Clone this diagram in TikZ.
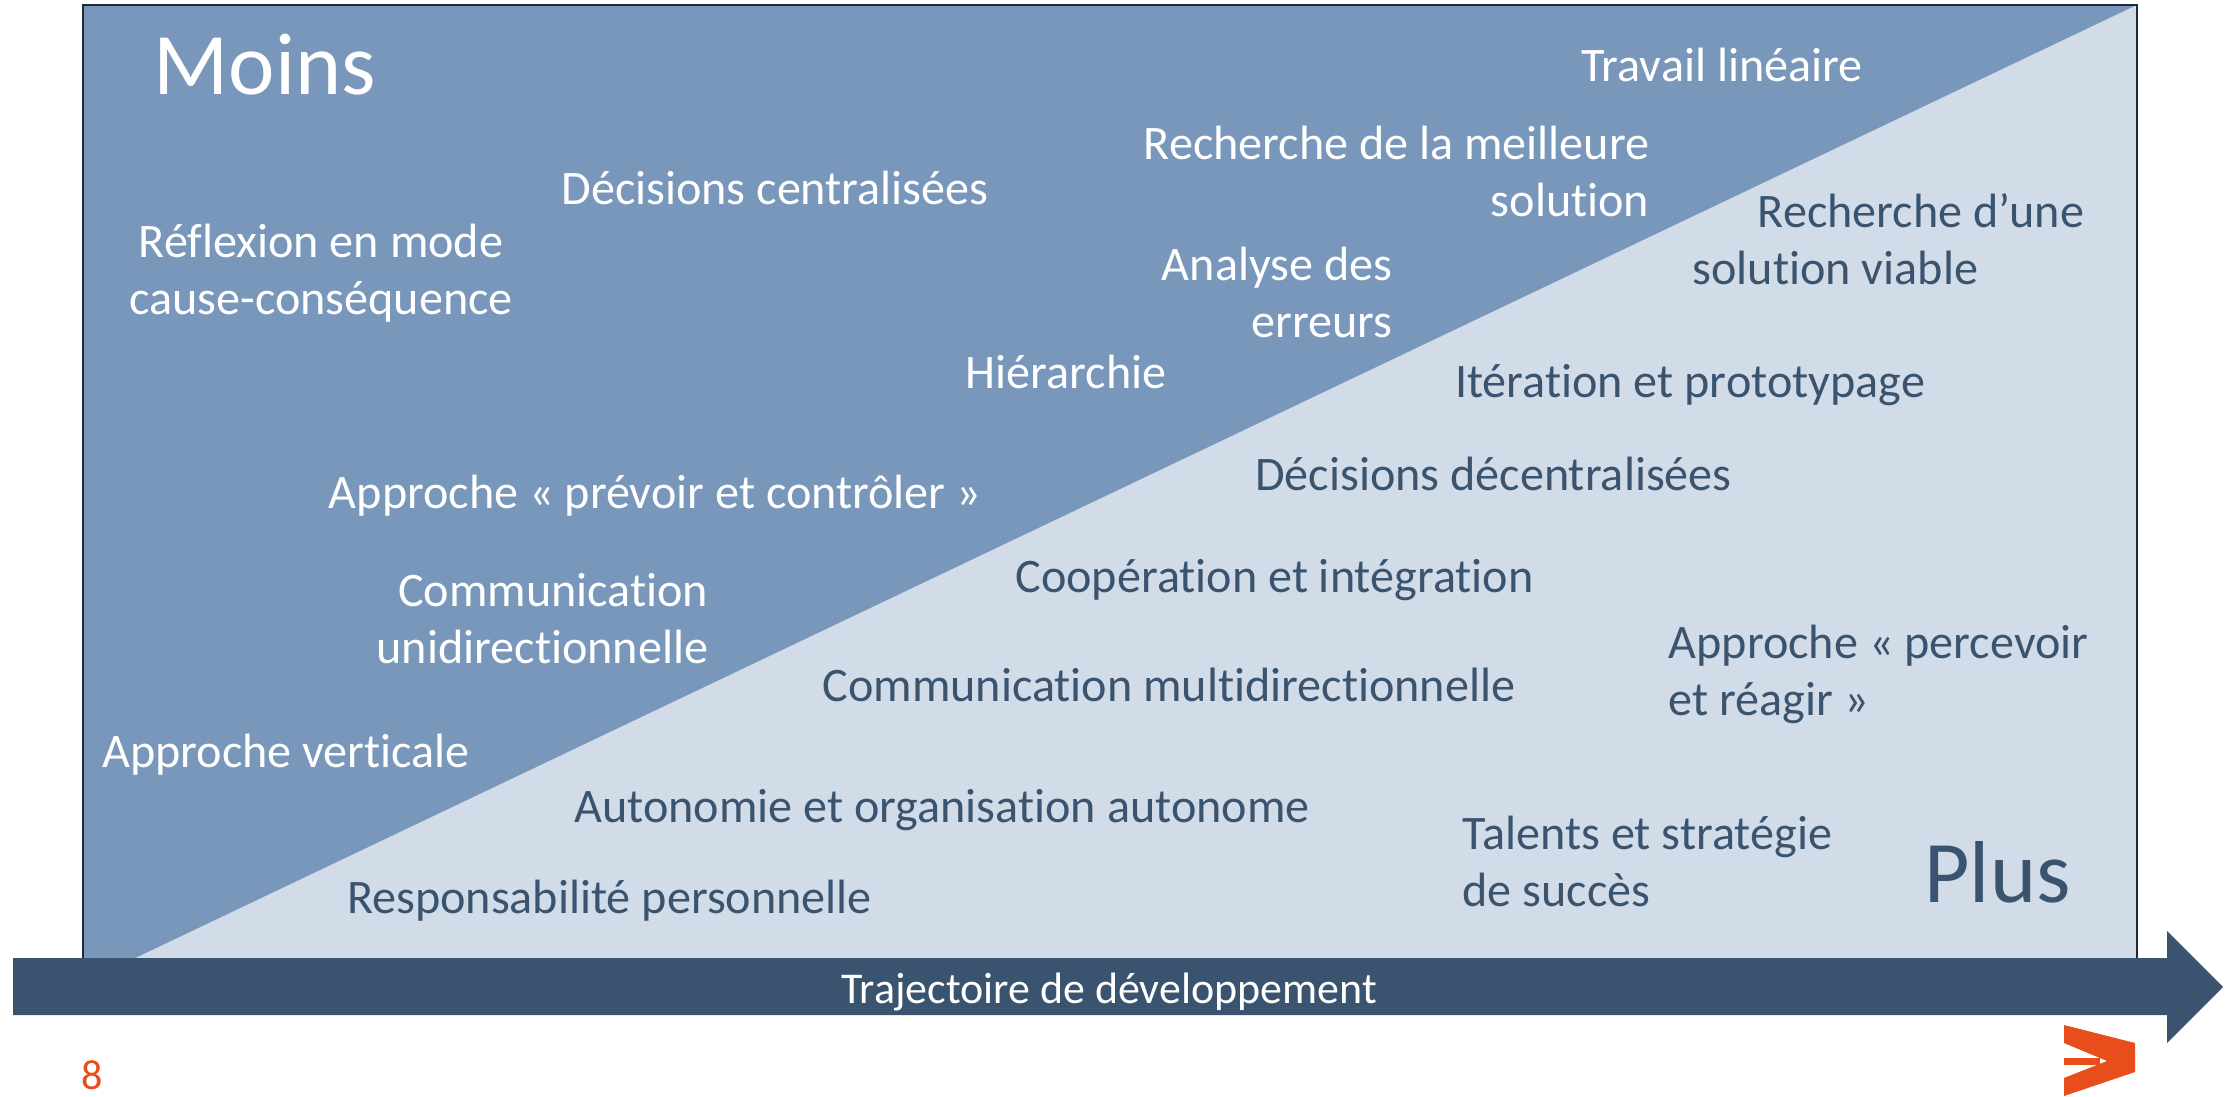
\documentclass[tikz,border=0pt]{standalone}
\usepackage{fontspec}
\setmainfont{Carlito}[Ligatures=NoCommon]
\usepackage{tikz}

\definecolor{darkblue}{RGB}{120,151,186}
\definecolor{paleblue}{RGB}{210,220,232}
\definecolor{navy}{RGB}{58,84,111}
\definecolor{frame}{RGB}{30,40,55}
\definecolor{logo}{RGB}{232,78,27}

\begin{document}
\begin{tikzpicture}[
	wlbl/.style = {text = white, inner sep = 0, font = \fontsize{13.7}{16.2}\selectfont},
	nlbl/.style = {text = navy, inner sep = 0, font = \fontsize{13.7}{16.2}\selectfont},
	big/.style = {inner sep = 0, font = \fontsize{25}{30}\selectfont}
]
	\useasboundingbox (0,0) rectangle (22.34,10.96);
	\fill [darkblue] (.83,1.13) rectangle (21.37,10.91);
	\fill [paleblue] (.83,1.13) -- (21.37,1.13) -- (21.37,10.91) -- cycle;
	\draw [frame, line width = .7pt] (.83,1.13) rectangle (21.37,10.91);
	\fill [navy] (.13,1.38) -- (21.67,1.38) -- (21.67,1.65) -- (22.23,1.09) -- (21.67,.53) -- (21.67,.81) -- (.13,.81) -- cycle;
	\fill [logo] (20.64,.71) -- (21.35,.53) -- (21.35,.24) -- (20.64,0) -- (20.64,.18) -- (21.07,.35) -- (20.64,.53) -- cycle;
	\fill [logo] (20.64,.31) rectangle (21.00,.38);

	\node [big, text = white, anchor = base west] (moins) at (1.53,10.01) {Moins};
	\node [wlbl, anchor = base] (lineaire) at (17.22,10.14) {Travail linéaire};
	\node [wlbl, align = right, anchor = east] (meilleure) at (16.50,9.245) {Recherche de la meilleure\\solution};
	\node [wlbl, anchor = base] (central) at (7.75,8.91) {Décisions centralisées};
	\node [wlbl, align = center] (reflexion) at (3.21,8.225) {Réflexion en mode\\cause-conséquence};
	\node [wlbl, align = right, anchor = east] (erreurs) at (13.93,8.035) {Analyse des\\erreurs};
	\node [wlbl, anchor = base east] (hierarchie) at (11.67,7.08) {Hiérarchie};
	\node [wlbl, anchor = base] (prevoir) at (6.55,5.88) {Approche « prévoir et contrôler »};
	\node [wlbl, align = right, anchor = east] (unidir) at (7.09,4.77) {Communication\\unidirectionnelle};
	\node [wlbl, anchor = base] (verticale) at (2.86,3.29) {Approche verticale};

	\node [nlbl, align = left, anchor = west] (viable) at (16.92,8.565) {\hspace*{.65cm}Recherche d’une\\solution viable};
	\node [nlbl, anchor = base] (iteration) at (16.90,6.99) {Itération et prototypage};
	\node [nlbl, anchor = base] (decentral) at (14.935,6.06) {Décisions décentralisées};
	\node [nlbl, anchor = base] (cooperation) at (12.745,5.04) {Coopération et intégration};
	\node [nlbl, anchor = base] (multidir) at (11.69,3.95) {Communication multidirectionnelle};
	\node [nlbl, align = left, anchor = west] (percevoir) at (16.68,4.22) {Approche « percevoir\\et réagir »};
	\node [nlbl, anchor = base] (autonomie) at (9.42,2.74) {Autonomie et organisation autonome};
	\node [nlbl, align = left, anchor = west] (talents) at (14.62,2.345) {Talents et stratégie\\de succès};
	\node [nlbl, anchor = base] (responsab) at (6.095,1.83) {Responsabilité personnelle};
	\node [big, text = navy, anchor = base] (plus) at (19.975,1.94) {Plus};

	\node [inner sep = 0, text = white, font = \fontsize{12.5}{15}\selectfont, anchor = base] (trajet) at (11.09,.93) {Trajectoire de développement};
	\node [inner sep = 0, text = logo, font = \fontsize{12}{14}\selectfont] (page) at (.92,.21) {8};
\end{tikzpicture}
\end{document}
